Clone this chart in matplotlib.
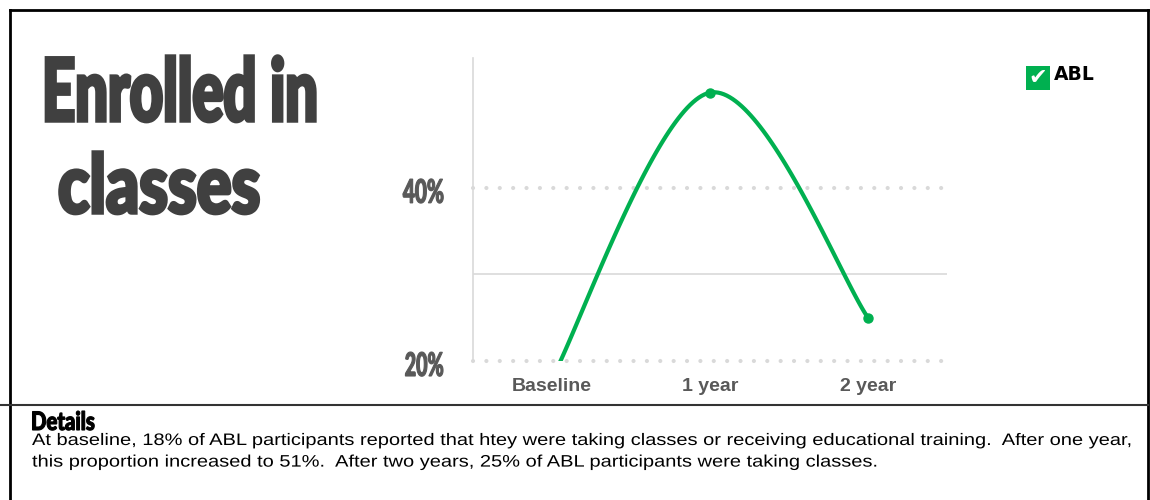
import matplotlib
matplotlib.use("Agg")
import matplotlib.pyplot as plt
import matplotlib.transforms as mtransforms
import numpy as np
from matplotlib.patheffects import AbstractPathEffect
from matplotlib.textpath import TextPath
from matplotlib.lines import Line2D
from matplotlib.patches import Rectangle

# ---------------------------------------------------------------- datos
periodos = ["Baseline", "1 year", "2 year"]
abl = [18, 51, 25]
marcas_y = [20, 40]
etiquetas_y = ["20%", "40%"]
serie = "ABL"
titulo_1 = "Enrolled in"
titulo_2 = "classes"
detalle_titulo = "Details"
detalle_texto = ("At baseline, 18% of ABL participants reported that htey were taking classes or "
                 "receiving educational training.  After one year,\n"
                 "this proportion increased to 51%.  After two years, 25% of ABL participants were taking classes.")

VERDE = "#00B050"
GRIS_GRID = "#d9d9d9"
W, H = 1150, 500
LETRA_TITULO = dict(family="Lato", fontweight="black")

plt.rcParams["font.family"] = ["Liberation Sans", "DejaVu Sans"]


class Estirar(AbstractPathEffect):
    # escala el texto desde su origen (linea base, izquierda) y opcionalmente lo engorda
    def __init__(self, sx=1.0, sy=1.0, grosor=0.0):
        super().__init__()
        self.sx = sx
        self.sy = sy
        self.grosor = grosor

    def draw_path(self, renderer, gc, tpath, affine, rgbFace=None):
        aff = mtransforms.Affine2D().scale(self.sx, self.sy) + affine
        gc0 = renderer.new_gc()
        gc0.copy_properties(gc)
        if self.grosor:
            gc0.set_linewidth(self.grosor)
            gc0.set_foreground(rgbFace)
            gc0.set_joinstyle("miter")
        renderer.draw_path(gc0, tpath, aff, rgbFace)
        gc0.restore()


def fx(x):
    return x / W


def fy(y):
    return 1 - y / H


def suavizar(xs, ys, n=60):
    # curva suavizada tipo Excel: bezier con puntos de control a 1/6 de los vecinos
    p = np.column_stack([xs, ys]).astype(float)
    ext = np.vstack([p[0], p, p[-1]])
    tramos = []
    t = np.linspace(0, 1, n)[:, None]
    for i in range(len(p) - 1):
        p0, p1 = ext[i + 1], ext[i + 2]
        c1 = p0 + (ext[i + 2] - ext[i]) / 6
        c2 = p1 - (ext[i + 3] - ext[i + 1]) / 6
        b = (1 - t) ** 3 * p0 + 3 * (1 - t) ** 2 * t * c1 + 3 * (1 - t) * t ** 2 * c2 + t ** 3 * p1
        tramos.append(b)
    c = np.vstack(tramos)
    return c[:, 0], c[:, 1]


def condensar(t, ancho, alto, grosor):
    # tamaño de letra segun el ancho en pixeles, y estiramiento vertical hasta "alto"
    r = fig.canvas.get_renderer()
    w = t.get_window_extent(r).width
    t.set_fontsize(t.get_fontsize() * ancho / w)
    px = t.get_fontsize() * fig.dpi / 72
    tinta = TextPath((0, 0), t.get_text(), size=px, prop=t.get_fontproperties()).get_extents().y1
    t.set_path_effects([Estirar(sy=alto / tinta, grosor=grosor)])


fig = plt.figure(figsize=(11.5, 5), dpi=100)
fig.patch.set_facecolor("white")

# ---------------------------------------------------------------- grafico
ax = fig.add_axes([fx(473), fy(361), fx(947 - 473), (361 - 58) / H])
ax.set_xlim(-0.5, 2.5)
ax.set_ylim(20, 55)
for lado in ["top", "right", "bottom"]:
    ax.spines[lado].set_visible(False)
ax.spines["left"].set_color(GRIS_GRID)
ax.spines["left"].set_linewidth(1.2)

ax.axhline(30, color=GRIS_GRID, lw=1.2, zorder=1)
for m in marcas_y:
    ax.axhline(m, color=GRIS_GRID, lw=3, ls=(0, (0.01, 3.2)), dash_capstyle="round",
               clip_on=False, zorder=1)

x = np.arange(len(periodos))
cx, cy = suavizar(x, abl)
ax.plot(cx, cy, color=VERDE, lw=3, solid_capstyle="round", zorder=3)
ax.plot(x, abl, "o", color=VERDE, ms=6.5, zorder=4)

ax.set_yticks([])
ax.set_xticks(x, periodos)
ax.tick_params(axis="x", length=0, pad=12, labelsize=14, labelcolor="#595959")
for lbl in ax.get_xticklabels():
    lbl.set_fontweight("bold")

trans_y = mtransforms.offset_copy(ax.get_yaxis_transform(), fig=fig, y=-15, units="dots")
textos_y = []
for m, txt in zip(marcas_y, etiquetas_y):
    t = ax.text(-29 / (947 - 473), m, txt, transform=trans_y, ha="right", va="baseline",
                fontsize=12, color="#595959", **LETRA_TITULO)
    textos_y.append(t)

# ---------------------------------------------------------------- titulo
t1 = fig.text(fx(42), fy(121), titulo_1, ha="left", va="baseline", fontsize=33,
              color="#404040", **LETRA_TITULO)
t2 = fig.text(fx(58), fy(213), titulo_2, ha="left", va="baseline", fontsize=35,
              color="#404040", **LETRA_TITULO)

# ---------------------------------------------------------------- leyenda
fig.add_artist(Rectangle((fx(1026), fy(90)), fx(24), 24 / H, transform=fig.transFigure,
                         facecolor=VERDE, edgecolor="none"))
fig.text(fx(1038), fy(78), "\u2714", ha="center", va="center", fontsize=16,
         family="DejaVu Sans", color="white")
fig.text(fx(1054), fy(80), serie, ha="left", va="baseline", fontsize=13.5,
         fontweight="bold", family="DejaVu Sans", color="black")

# ---------------------------------------------------------------- detalles
t3 = fig.text(fx(31), fy(430), detalle_titulo, ha="left", va="baseline", fontsize=12,
              color="black", **LETRA_TITULO)
t4 = fig.text(fx(32), fy(433), detalle_texto, ha="left", va="top", fontsize=12,
              linespacing=1.55, color="black")

# ---------------------------------------------------------------- bordes
lineas = [([10, 1148], [10, 10], "black", 2),
          ([10, 10], [10, 500], "black", 2),
          ([1148, 1148], [10, 500], "black", 2),
          ([0, 1148], [405, 405], "#333333", 1.5)]
for xs, ys, col, lw in lineas:
    fig.add_artist(Line2D([fx(v) for v in xs], [fy(v) for v in ys], transform=fig.transFigure,
                          color=col, lw=lw))

# letras condensadas: ancho y alto en pixeles de cada texto
fig.canvas.draw()
condensar(t1, 276, 65, 2.5)
condensar(t2, 202, 61, 2.5)
condensar(t3, 64, 19, 0.8)
for t, ancho in zip(textos_y, [39, 41]):
    condensar(t, ancho, 24, 0.8)
w_cuerpo = t4.get_window_extent(fig.canvas.get_renderer()).width
t4.set_path_effects([Estirar(sx=1103 / w_cuerpo)])

fig.savefig("out.png", dpi=100, facecolor="white")
